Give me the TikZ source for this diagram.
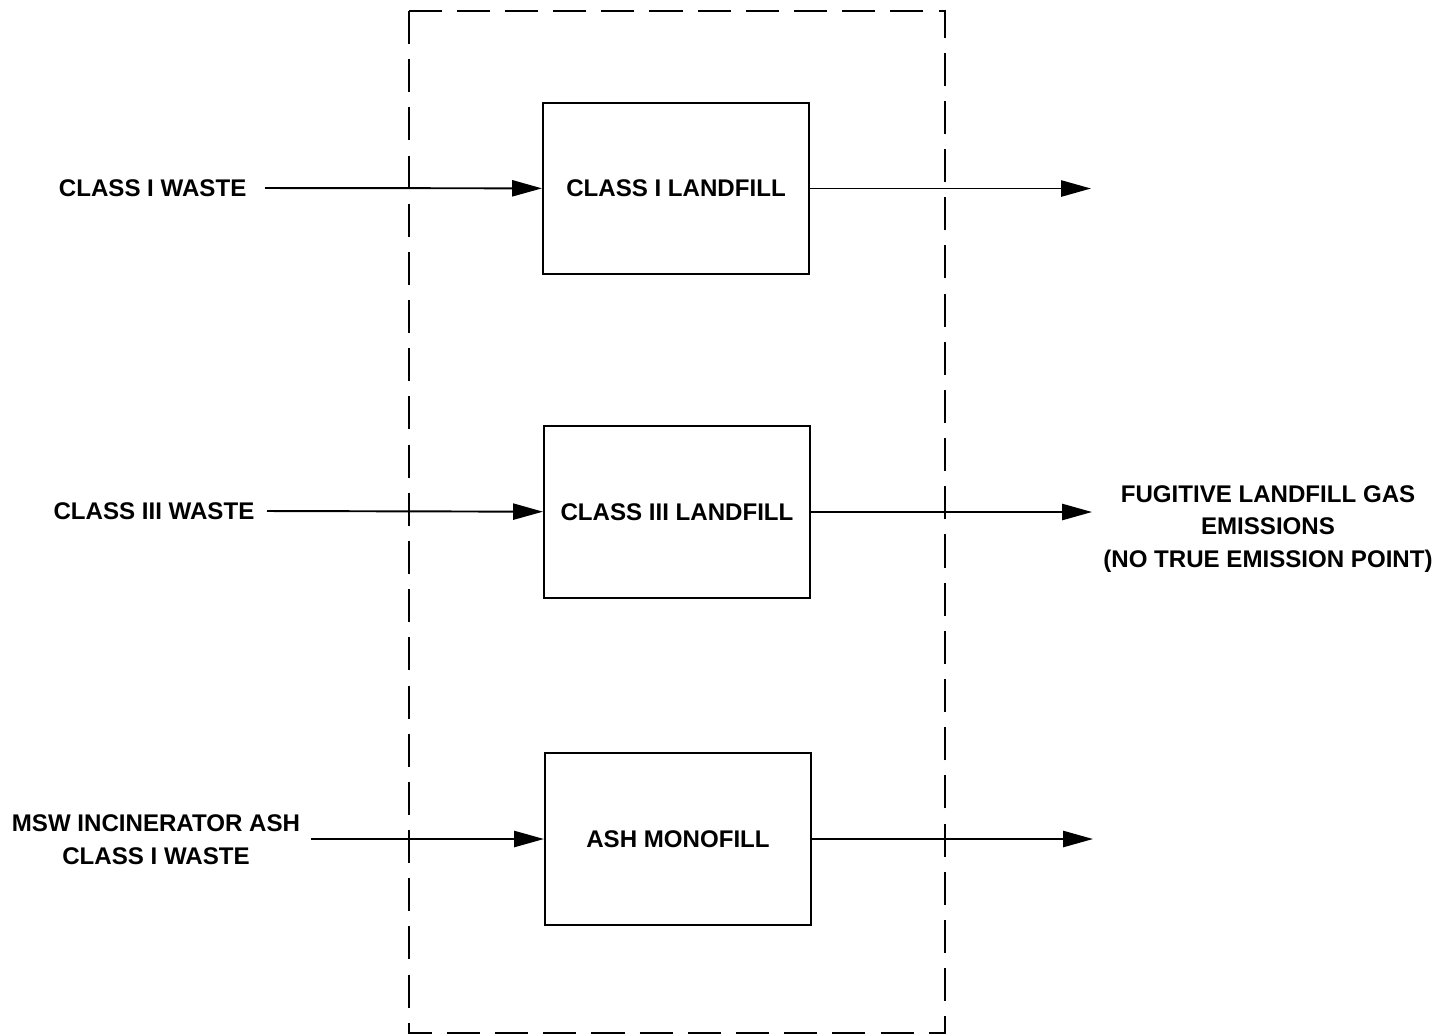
\documentclass[tikz,border=0pt]{standalone}
\usepackage{fontspec}
\setmainfont{Liberation Sans}
\usepackage{tikz}
\usetikzlibrary{arrows.meta,positioning}

\begin{document}
\begin{tikzpicture}[x=0.01cm,y=-0.01cm,>={Triangle[length=8.5pt,width=4.6pt]},
  line width=0.55pt,
  every node/.style={font=\bfseries\fontsize{6.85}{9.3}\selectfont, align=center},
  fill box/.style={draw, minimum width=2.66cm, minimum height=1.71cm},
  flow/.style={->}]
\useasboundingbox (0,0) rectangle (1438,1035);
% system boundary
\draw [dash pattern=on 9.4pt off 4.3pt] (409,11) rectangle (945,1033);
% landfills
\node (lf1) [fill box] at (676,188.5) {CLASS I LANDFILL};
\node (lf3) [fill box] at (677,512) {CLASS III LANDFILL};
\node (ash) [fill box] at (678,839) {ASH MONOFILL};
% incoming waste
\node (w1) [anchor=east] at (259,188) {CLASS I WASTE};
\node (w3) [anchor=east] at (267,511) {CLASS III WASTE};
\node (wash) at (156,840) {MSW INCINERATOR ASH\\CLASS I WASTE};
\coordinate (s1) at (265,188);
\coordinate (s3) at (267,511);
\coordinate (sash) at (311,839);
% emissions
\coordinate (e1) at (1091,188.5);
\coordinate (e3) at (1092,512);
\coordinate (eash) at (1093,839);
\node (gas) at (1268,529) {FUGITIVE LANDFILL GAS\\EMISSIONS\\(NO TRUE EMISSION POINT)};
\draw [flow] (s1) -- (lf1);
\draw [flow] (s3) -- (lf3);
\draw [flow] (sash) -- (ash);
\draw [flow] (lf1) -- (e1);
\draw [flow] (lf3) -- (e3);
\draw [flow] (ash) -- (eash);
\end{tikzpicture}
\end{document}
